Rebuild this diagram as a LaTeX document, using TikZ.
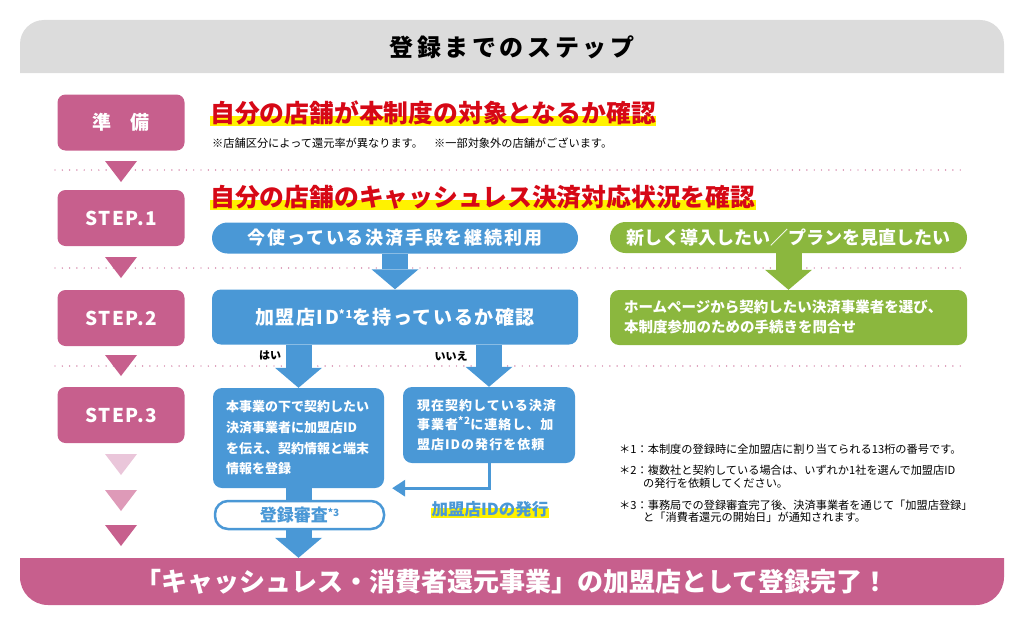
\documentclass[tikz,border=0pt]{standalone}
\usepackage{fontspec}
\setmainfont{Noto Sans CJK JP}
\usetikzlibrary{arrows.meta}
\pgfdeclarelayer{bg}
\pgfsetlayers{bg,main}

\definecolor{stepPink}{RGB}{199,95,141}
\definecolor{stepSoft}{RGB}{222,154,184}
\definecolor{stepPale}{RGB}{234,198,218}
\definecolor{payBlue}{RGB}{74,152,214}
\definecolor{newGreen}{RGB}{139,183,62}
\definecolor{headGray}{RGB}{220,220,220}
\definecolor{headRed}{RGB}{214,8,22}
\definecolor{markYellow}{RGB}{255,242,0}

\newcommand{\fsz}[1]{\fontsize{#1}{#1}\selectfont}

\begin{document}
\begin{tikzpicture}[x=1pt, y=-1pt,
  stepbox/.style={fill=stepPink, rounded corners=8, minimum width=127, minimum height=56,
                  inner sep=0, text=white, font=\fsz{19}\bfseries\addfontfeature{LetterSpace=8}},
  bluebox/.style={fill=payBlue, rounded corners=9, inner sep=0, text=white},
  greenbox/.style={fill=newGreen, rounded corners=9, inner sep=0, text=white},
  headline/.style={anchor=west, inner sep=0, text=headRed, font=\fsz{24.8}\bfseries},
  fatarr/.style={line width=26, -{Triangle[width=47pt, length=20pt, line width=0pt]}},
  dotline/.style={stepPink, line width=1.4, line cap=round, dash pattern=on 0pt off 7.3pt},
  note/.style={anchor=west, inner sep=0, align=left, font=\fontsize{11.2}{12.5}\selectfont}
]
  \useasboundingbox (0,0) rectangle (1024,626);

  % header
  \fill[headGray, rounded corners=24] (20,73) -- (20,20) -- (1004,20) -- (1004,73);
  \node[font=\fsz{24}\bfseries\addfontfeature{LetterSpace=15}] (title) at (512,47) {登録までのステップ};

  % dotted separators
  \foreach \y in {170,268,366}
    \draw[dotline] (55,\y) -- (967,\y);

  % step column
  \node[stepbox] (prep)  at (121,122.5) {準\hspace{1em}備};
  \node[stepbox] (step1) at (121,218) {STEP.1};
  \node[stepbox] (step2) at (121,318) {STEP.2};
  \node[stepbox] (step3) at (121,415) {STEP.3};
  \foreach \y/\c in {161/stepPink, 257/stepPink, 355/stepPink, 454/stepPale, 490/stepSoft, 525/stepPink}
    \fill[\c] (105,\y) -- (137,\y) -- (121,\y+21) -- cycle;

  % headings
  \node[headline] (check0) at (210,113) {自分の店舗が本制度の対象となるか確認};
  \node[note] (remark) at (212,143) {※店舗区分によって還元率が異なります。　※一部対象外の店舗がございます。};
  \node[headline] (check1) at (210,197) {自分の店舗のキャッシュレス決済対応状況を確認};

  % current payment
  \node[bluebox, rounded corners=15.5, minimum width=366, minimum height=31,
        font=\fsz{18}\bfseries\addfontfeature{LetterSpace=10}] (keep) at (395,238) {今使っている決済手段を継続利用};
  \node[bluebox, minimum width=366, minimum height=55,
        font=\fsz{19}\bfseries\addfontfeature{LetterSpace=8}] (hasid) at (395,317) {加盟店ID\raisebox{6pt}{\fsz{11}*1}を持っているか確認};
  \node[font=\fsz{11}\bfseries] (yes) at (270,355) {はい};
  \node[font=\fsz{11}\bfseries] (no) at (451,356) {いいえ};
  \node[bluebox, minimum width=171, minimum height=100, text width=145, align=left,
        font=\fontsize{13}{20.7}\selectfont\bfseries] (regist) at (298.5,438)
        {本事業の下で契約したい\\決済事業者に加盟店ID\\を伝え、契約情報と端末\\情報を登録};
  \node[bluebox, minimum width=172, minimum height=76, text width=144, align=left,
        font=\fontsize{13}{19.5}\selectfont\bfseries\addfontfeature{LetterSpace=8}] (idreq) at (489,425)
        {現在契約している決済\\事業者\raisebox{5pt}{\fsz{10}*2}に連絡し、加\\盟店IDの発行を依頼};

  % new payment
  \node[greenbox, rounded corners=15.5, minimum width=357, minimum height=31,
        font=\fsz{18}\bfseries] (renew) at (788.5,237.5) {新しく導入したい／プランを見直したい};
  \node[greenbox, minimum width=357, minimum height=55, text width=329, align=left,
        font=\fontsize{14.5}{20}\selectfont\bfseries] (contact) at (788.5,317.5)
        {ホームページから契約したい決済事業者を選び、\\本制度参加のための手続きを問合せ};

  \draw[fatarr, payBlue] (keep.south) -- (hasid.north);
  \draw[fatarr, payBlue] (hasid.south -| regist.north) -- (regist.north);
  \draw[fatarr, payBlue] (hasid.south -| idreq.north) -- (idreq.north);
  \draw[fatarr, newGreen] (renew.south) -- (contact.north);
  \draw[payBlue, line width=3, -{Triangle[width=17pt, length=13pt, line width=0pt]}]
    (idreq.south) |- ([xshift=8pt]regist.south east);
  \node[inner sep=0, text=payBlue, font=\fsz{16.5}\bfseries] (issued) at (490,509) {加盟店IDの発行};

  % final bar
  \fill[stepPink, rounded corners=28] (20,558) -- (20,605) -- (1004,605) -- (1004,558);
  \node[minimum width=984, minimum height=47, inner sep=0, text=white,
        font=\fsz{26}\bfseries] (done) at (512,581.5) {「キャッシュレス・消費者還元事業」の加盟店として登録完了！};
  \draw[fatarr, payBlue] (regist.south) -- (regist.south |- done.north);
  \node[fill=white, draw=payBlue, line width=2.5, rounded corners=13, minimum width=169,
        minimum height=28, inner sep=0, text=payBlue, font=\fsz{17}\bfseries] (audit) at (299.5,515)
        {登録審査\raisebox{5pt}{\fsz{10}*3}};

  % footnotes
  \node[note] (fn1) at (619,449) {＊1：本制度の登録時に全加盟店に割り当てられる13桁の番号です。};
  \node[note] (fn2) at (619,477) {＊2：複数社と契約している場合は、いずれか1社を選んで加盟店ID\\\hspace*{24pt}の発行を依頼してください。};
  \node[note] (fn3) at (619,511) {＊3：事務局での登録審査完了後、決済事業者を通じて「加盟店登録」\\\hspace*{24pt}と「消費者還元の開始日」が通知されます。};

  % yellow markers
  \begin{pgfonlayer}{bg}
    \foreach \n in {check0,check1,issued}
      \fill[markYellow] ([yshift=-1pt]\n.south west) rectangle ([yshift=9pt]\n.south east);
  \end{pgfonlayer}
\end{tikzpicture}
\end{document}
